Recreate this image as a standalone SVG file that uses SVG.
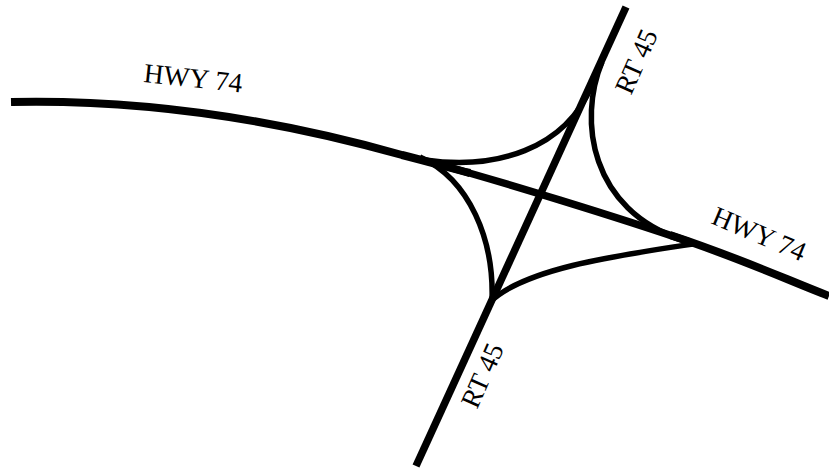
<svg xmlns="http://www.w3.org/2000/svg" width="829" height="470" viewBox="0 0 829 470">
<style>
.r{fill:none;stroke:#000;stroke-width:8}
.c{fill:none;stroke:#000;stroke-width:7.5}
.t{fill:none;stroke:#000;stroke-width:5.5}
text{font-family:"Liberation Serif","Times New Roman",serif;font-size:27.5px;fill:#000}
</style>
<rect width="829" height="470" fill="#fff"/>
<g id="connectors">
<path class="r" d="M11 102C150 99 285 122 402 155C430 162 450 168 470 173"/>
<path class="c" d="M430 162C500 181 620 218 690 242"/>
<path class="r" d="M670 235C740 258 785 279 829 296"/>
<path class="c" d="M626 7L416 466"/>
<path class="t" d="M425 160C495 170 565 150 592 85"/>
<path class="t" d="M602 62C578 120 590 210 683 240"/>
<path class="t" d="M693 244C620 255 525 268 490 302"/>
<path class="t" d="M420 157C470 180 494 240 492 300"/>
</g>
<g id="labels">
<text transform="translate(143 82) rotate(6)">HWY 74</text>
<text transform="translate(710 223) rotate(23)">HWY 74</text>
<text transform="translate(631 96) rotate(-66)">RT 45</text>
<text transform="translate(477 410) rotate(-66)">RT 45</text>
</g>
</svg>
